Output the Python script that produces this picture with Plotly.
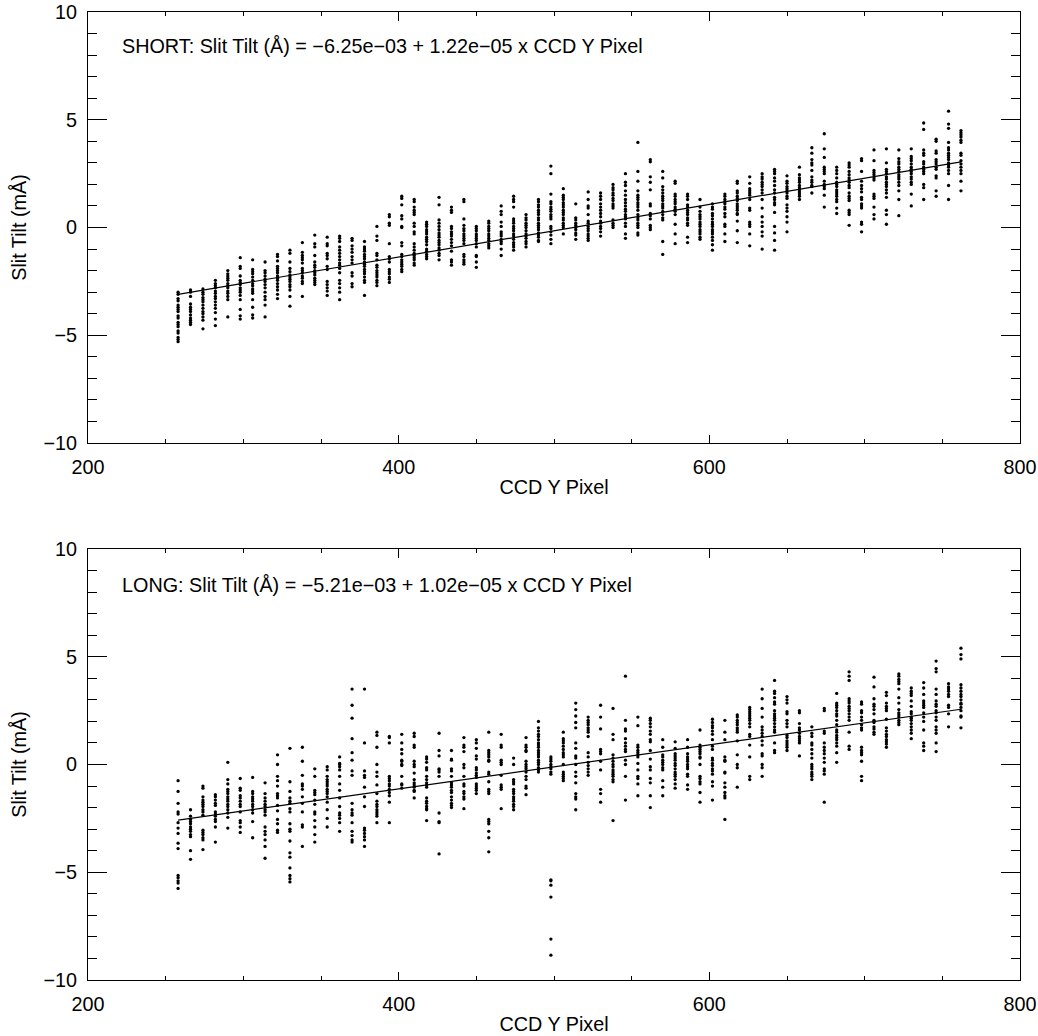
import plotly.graph_objects as go

# CCD Y pixel of each measured column
ccd_y_pixel = [258, 266, 274, 282, 290, 298, 306, 314, 322, 330, 338, 346, 354, 362, 370, 378,
               386, 394, 402, 410, 418, 426, 434, 442, 450, 458, 466, 474, 482, 490, 498, 506,
               514, 522, 530, 538, 546, 554, 562, 570, 578, 586, 594, 602, 610, 618, 626, 634,
               642, 650, 658, 666, 674, 682, 690, 698, 706, 714, 722, 730, 738, 746, 754, 762]

# SHORT slit tilt (mÅ), one list per column
short_tilt = [
 [-3.0,-3.1,-3.3,-3.4,-3.6,-3.7,-3.8,-3.9,-4.1,-4.2,-4.4,-4.5,-4.6,-4.8,-4.9,-5.1,-5.2,-5.3],
 [-2.9,-3.0,-3.2,-3.55,-3.7,-3.8,-3.9,-4.05,-4.2,-4.3,-4.4,-4.5],
 [-2.85,-3.0,-3.1,-3.25,-3.35,-3.45,-3.6,-3.75,-3.9,-4.0,-4.15,-4.3,-4.7],
 [-2.45,-2.6,-2.7,-2.8,-2.95,-3.05,-3.2,-3.3,-3.45,-3.6,-3.75,-3.95,-4.25,-4.55],
 [-2.0,-2.15,-2.25,-2.35,-2.45,-2.6,-2.7,-2.8,-2.95,-3.05,-3.2,-3.35,-4.15],
 [-1.4,-1.8,-1.9,-2.25,-2.45,-2.55,-2.65,-2.8,-2.9,-3.0,-3.15,-3.35,-3.8,-4.1,-4.25],
 [-1.5,-1.95,-2.05,-2.15,-2.3,-2.45,-2.6,-2.7,-2.85,-2.95,-3.05,-3.35,-3.7,-4.05,-4.2],
 [-1.6,-2.0,-2.1,-2.25,-2.4,-2.5,-2.65,-2.8,-3.0,-3.2,-3.35,-3.6,-4.15],
 [-1.25,-1.35,-1.55,-1.8,-1.9,-2.0,-2.1,-2.25,-2.35,-2.45,-2.6,-2.75,-2.9,-3.1,-3.3],
 [-1.05,-1.2,-1.6,-1.9,-2.05,-2.2,-2.3,-2.4,-2.5,-2.65,-2.75,-2.9,-3.2,-3.65],
 [-0.7,-1.15,-1.3,-1.4,-1.5,-1.65,-1.9,-2.0,-2.1,-2.25,-2.35,-2.5,-2.6,-3.2],
 [-0.35,-0.75,-0.9,-1.3,-1.6,-1.75,-1.85,-2.0,-2.1,-2.2,-2.35,-2.45,-2.55,-2.65],
 [-0.45,-0.75,-0.85,-1.2,-1.3,-1.45,-1.8,-1.95,-2.5,-2.65,-2.8,-2.95,-3.15],
 [-0.4,-0.5,-0.65,-0.9,-1.05,-1.2,-1.35,-1.5,-1.65,-1.75,-1.9,-2.1,-2.45,-2.6,-2.8,-3.0,-3.35],
 [-0.5,-0.6,-0.85,-1.0,-1.15,-1.35,-1.5,-1.65,-2.1,-2.25,-2.6,-2.75],
 [-0.65,-0.9,-1.0,-1.1,-1.25,-1.35,-1.45,-1.6,-1.7,-1.8,-1.95,-2.05,-2.15,-2.3,-2.45,-2.55,-3.15],
 [0.05,-0.4,-0.6,-1.2,-1.3,-1.5,-1.75,-1.85,-2.0,-2.1,-2.2,-2.3,-2.45,-2.55,-2.7],
 [0.6,0.5,0.2,0.1,-0.75,-1.35,-1.45,-1.6,-1.95,-2.05,-2.15,-2.3,-2.4,-2.55],
 [1.45,1.35,1.05,0.55,0.4,0.05,0.0,-0.7,-0.85,-1.25,-1.35,-1.5,-1.6,-1.7,-1.8,-1.95,-2.05],
 [1.3,1.2,0.95,0.8,0.7,0.6,0.2,0.05,-0.2,-0.3,-0.75,-0.9,-1.05,-1.2,-1.3,-1.4,-1.5,-1.65,-1.75],
 [0.25,0.15,0.05,-0.1,-0.2,-0.3,-0.45,-0.55,-0.65,-0.8,-1.0,-1.1,-1.25,-1.35,-1.45],
 [1.4,1.05,0.35,0.2,0.05,-0.1,-0.25,-0.35,-0.45,-0.6,-0.7,-0.8,-0.95,-1.05,-1.2,-1.3,-1.5],
 [0.95,0.8,0.7,0.05,-0.05,-0.2,-0.3,-0.4,-0.55,-0.7,-0.85,-1.1,-1.5,-1.6,-1.75],
 [1.3,1.2,0.4,0.1,-0.05,-0.15,-0.3,-0.4,-0.5,-0.6,-0.75,-1.25,-1.35,-1.5,-1.6,-1.7],
 [0.05,-0.05,-0.15,-0.3,-0.4,-0.5,-0.6,-0.75,-0.9,-1.3,-1.35,-1.6,-1.85],
 [0.3,0.2,0.05,-0.05,-0.15,-0.3,-0.4,-0.5,-0.6,-0.75,-0.85,-0.95],
 [1.0,0.75,0.6,0.25,0.05,-0.2,-0.3,-0.4,-0.55,-0.65,-0.75,-1.0,-1.3],
 [1.45,1.3,1.2,0.95,0.4,0.3,0.2,0.05,-0.05,-0.15,-0.3,-0.4,-0.55,-0.7,-0.8,-0.9,-1.05],
 [0.6,0.45,0.35,0.2,0.1,0.0,-0.15,-0.3,-0.4,-0.5,-0.65,-0.75,-0.9],
 [1.3,1.2,1.05,0.95,0.8,0.7,0.6,0.45,0.35,0.2,0.1,0.0,-0.1,-0.25,-0.35,-0.45,-0.6,-0.65],
 [2.85,2.5,1.55,1.2,1.1,0.95,0.85,0.75,0.6,0.5,0.4,0.05,-0.05,-0.2,-0.35,-0.55,-0.75],
 [1.8,1.5,1.4,1.3,1.15,1.05,0.95,0.8,0.7,0.6,0.45,0.35,0.2,0.1,0.0,-0.3],
 [1.1,0.45,0.35,0.2,0.1,0.0,-0.1,-0.25,-0.35,-0.55],
 [1.65,1.3,1.0,0.9,0.6,0.3,0.2,0.05,-0.05,-0.15,-0.3,-0.4,-0.5,-0.6],
 [1.6,1.45,1.3,1.1,0.95,0.8,0.65,0.5,0.3,0.2,0.05,-0.05,-0.2,-0.4],
 [2.0,1.85,1.75,1.6,1.5,1.35,1.25,1.1,1.0,0.9,0.35,0.2,0.1,0.0],
 [2.5,2.1,1.95,1.7,1.5,1.3,1.15,1.0,0.85,0.75,0.6,0.5,0.4,0.2,0.05,-0.3,-0.5],
 [3.95,2.6,2.15,1.7,1.5,1.4,1.3,1.15,1.05,0.95,0.8,0.6,0.45,0.35,0.2,0.1,0.0,-0.25,-0.35],
 [3.15,3.05,2.35,2.1,1.75,1.1,1.0,0.65,0.55,0.4,0.1,0.0,-0.1],
 [2.6,2.3,1.9,1.75,1.6,1.45,1.35,1.25,1.1,1.0,0.9,0.75,0.6,0.45,0.35,-0.65,-1.25],
 [2.15,2.05,1.55,1.45,1.3,1.2,1.1,0.95,0.85,0.75,0.6,0.15,-0.3,-0.75],
 [1.55,1.45,1.3,1.05,0.95,0.8,0.7,0.6,0.45,0.35,0.2,0.1,-0.45,-0.7],
 [1.3,0.95,0.75,0.6,0.5,0.4,0.25,0.15,0.05,-0.1,-0.2,-0.3,-0.45,-0.55],
 [1.1,0.95,0.85,0.65,0.55,0.4,0.25,0.15,0.05,-0.1,-0.2,-0.3,-0.45,-0.6,-0.8,-1.05],
 [1.55,1.45,1.3,1.2,1.1,0.95,0.85,0.65,0.5,0.15,0.05,-0.3,-0.65],
 [2.15,2.05,1.7,1.6,1.45,1.35,1.25,1.1,1.0,0.9,0.8,0.65,0.6,0.3,-0.15,-0.7],
 [2.35,2.05,1.8,1.7,1.6,1.5,1.3,0.9,0.8,0.25,0.15,0.05,-0.3,-0.85],
 [2.5,2.35,2.25,2.1,2.0,1.9,1.75,1.6,1.3,0.9,0.5,0.25,0.05,-0.2,-0.4,-1.0],
 [2.7,2.6,2.5,2.3,2.15,1.95,1.75,1.6,1.4,1.3,1.15,1.05,0.7,0.05,-0.25,-0.6,-1.05],
 [2.4,2.15,2.05,1.9,1.8,1.7,1.6,1.45,1.35,1.05,0.9,0.75,0.5,0.25,-0.2],
 [2.8,2.45,2.3,2.2,2.1,1.95,1.85,1.75,1.65,1.55,1.45,1.3],
 [3.7,3.45,3.15,3.0,2.9,2.65,2.35,2.2,2.1,1.95,1.9,1.6],
 [4.35,3.65,3.25,2.8,2.7,2.6,2.5,2.15,2.0,1.9,1.8,1.5,0.95],
 [2.8,2.65,2.5,2.3,2.1,2.0,1.9,1.75,1.65,1.55,1.45,1.3,1.2,0.9,0.65],
 [3.0,2.9,2.8,2.6,2.45,2.3,2.2,2.1,1.95,1.85,1.6,1.45,1.35,1.25,0.8,0.7,0.6,0.1],
 [3.2,3.1,2.6,2.15,1.95,1.8,1.65,1.4,1.3,1.1,1.0,0.9,0.25,0.15,-0.2],
 [3.6,3.1,2.65,2.55,2.45,2.3,2.2,1.55,1.45,1.35,0.95,0.6,0.4],
 [3.65,3.0,2.7,2.6,2.5,2.35,2.25,2.1,2.0,1.9,1.75,1.6,1.4,0.8,0.6,0.15],
 [3.6,3.2,3.05,2.95,2.8,2.7,2.6,2.45,2.35,2.25,2.1,1.95,1.7,1.3,0.55],
 [3.65,3.3,3.2,3.1,2.95,2.8,2.7,2.6,2.5,2.35,2.25,2.1,2.0,1.55,1.0],
 [4.85,4.55,3.6,3.45,3.35,3.05,2.95,2.8,2.7,2.6,2.5,2.0,1.85,1.3],
 [4.1,4.0,3.55,3.45,3.15,3.05,2.95,2.8,2.7,2.4,2.3,1.7,1.45],
 [5.4,4.8,4.6,3.95,3.7,3.6,3.45,3.35,3.25,3.15,3.0,2.9,2.8,2.65,2.5,1.95,1.3],
 [4.5,4.4,4.3,4.2,4.05,3.95,3.45,3.35,3.1,2.95,2.8,2.65,2.5,2.15,1.7],
]

# LONG slit tilt (mÅ), one list per column
long_tilt = [
 [-0.75,-1.25,-1.8,-2.2,-2.3,-2.7,-2.95,-3.2,-3.65,-3.9,-5.15,-5.25,-5.4,-5.5,-5.75],
 [-2.1,-2.4,-2.55,-2.65,-2.75,-2.9,-3.0,-3.1,-3.25,-3.35,-4.0,-4.4],
 [-1.0,-1.1,-1.5,-1.65,-1.75,-1.85,-1.95,-2.1,-2.2,-2.35,-3.05,-3.15,-3.25,-3.4,-3.5,-3.95],
 [-1.4,-1.5,-1.65,-1.8,-1.9,-2.2,-2.3,-2.4,-2.55,-2.65,-2.9,-3.6],
 [0.1,-0.7,-0.9,-1.15,-1.25,-1.35,-1.5,-1.6,-1.7,-1.85,-1.95,-2.1,-2.25,-2.45,-2.95],
 [-0.65,-1.1,-1.2,-1.45,-1.55,-1.7,-1.85,-1.95,-2.2,-2.6,-2.7,-2.9,-3.15],
 [-0.6,-1.25,-1.35,-1.5,-1.6,-1.7,-1.85,-1.95,-2.1,-2.25,-2.65,-3.4],
 [-0.85,-1.35,-1.55,-1.7,-1.85,-1.95,-2.1,-2.2,-2.35,-2.9,-3.1,-3.25,-3.5,-3.8,-4.35],
 [0.45,0.0,-0.55,-0.75,-1.0,-1.35,-1.45,-1.55,-1.9,-2.15,-2.55,-2.75,-3.05,-3.15],
 [0.75,-0.8,-1.25,-1.55,-1.7,-1.8,-2.05,-2.2,-2.75,-3.0,-3.1,-3.55,-4.1,-4.3,-4.8,-5.15,-5.3,-5.45],
 [0.8,0.15,-0.5,-0.9,-1.0,-1.15,-1.5,-1.8,-2.2,-2.8,-2.9,-3.8],
 [-0.2,-0.55,-1.2,-1.3,-1.4,-1.65,-1.85,-2.2,-2.3,-2.6,-2.9,-3.25,-3.6],
 [-0.1,-0.25,-0.55,-0.7,-0.8,-0.9,-1.0,-1.15,-1.25,-1.35,-1.5,-1.75,-2.1,-2.5,-2.9],
 [0.35,0.05,0.0,-0.1,-0.25,-0.55,-0.9,-1.2,-1.55,-1.95,-2.25,-2.35,-2.5,-2.7,-3.1],
 [3.5,2.75,2.15,1.2,0.55,0.2,-0.3,-0.5,-1.8,-2.1,-2.25,-2.35,-2.7,-3.1,-3.3,-3.5,-3.6],
 [3.5,1.0,-0.3,-0.5,-0.6,-1.05,-1.5,-1.95,-2.95,-3.05,-3.2,-3.35,-3.5,-3.8],
 [1.5,1.35,0.8,0.0,-0.35,-0.55,-0.95,-1.35,-1.7,-1.85,-1.95,-2.1,-2.2,-2.3,-2.4,-2.7],
 [1.3,1.25,1.0,-0.55,-0.65,-0.75,-0.9,-1.0,-1.15,-1.3,-1.45,-1.75,-2.7],
 [1.4,1.0,0.7,0.5,0.2,0.15,0.0,-0.05,-0.55,-0.9,-0.95,-1.1],
 [1.45,1.3,0.9,0.8,0.15,0.0,-0.1,-0.4,-0.7,-0.85,-0.95,-1.05,-1.2,-1.25,-1.55],
 [0.35,0.25,0.1,-0.15,-0.25,-0.55,-0.7,-0.85,-0.95,-1.05,-1.55,-1.7,-1.8,-1.95,-2.05,-2.1,-2.6],
 [1.45,0.65,0.4,-0.2,-0.25,-0.35,-0.55,-2.25,-2.65,-2.7,-4.15],
 [0.65,0.25,0.2,-0.2,-0.3,-0.55,-0.85,-0.95,-1.05,-1.2,-1.3,-1.5,-1.65,-1.8,-1.9,-2.0],
 [1.25,0.9,0.8,0.6,0.0,-0.15,-0.55,-0.9,-1.0,-1.25,-1.35,-1.5,-1.6,-2.05],
 [1.15,1.0,0.75,0.4,0.25,-0.15,-0.25,-0.4,-0.5,-0.6,-0.9,-1.0,-1.1,-1.2,-1.35],
 [1.5,0.65,0.55,0.45,0.35,0.2,0.15,-0.35,-0.45,-0.8,-1.15,-1.25,-1.35,-2.55,-2.65,-2.75,-3.1,-3.4,-4.05],
 [1.4,0.9,0.8,0.2,0.1,0.0,-0.5,-0.95,-1.05,-1.15,-2.05],
 [0.3,0.0,-0.7,-0.8,-0.9,-1.15,-1.25,-1.35,-1.5,-1.6,-1.7,-1.85,-1.95,-2.1],
 [1.25,0.9,0.8,0.65,0.6,0.15,0.0,-0.1,-0.2,-0.35,-0.55,-0.7,-1.0,-1.1,-1.4],
 [2.0,1.7,1.55,1.4,1.3,1.15,1.0,0.9,0.8,0.65,0.55,0.45,0.35,0.2,0.1,0.0,-0.15,-0.25,-0.35],
 [0.35,0.25,0.15,0.0,-0.1,-0.2,-0.35,-0.45,-5.35,-5.4,-5.6,-6.15,-8.1,-8.85],
 [1.5,1.2,1.1,1.0,0.85,0.7,0.55,0.45,0.35,0.0,-0.35,-0.45,-0.55,-0.65,-0.75],
 [2.85,2.55,2.25,1.95,1.7,1.0,0.75,0.4,0.3,0.0,-0.35,-0.55,-0.85,-1.35,-1.5,-1.6,-2.1],
 [2.2,2.05,1.95,1.85,1.7,1.6,1.5,1.3,0.55,0.35,0.1,-0.05,-0.2,-0.35,-0.5],
 [2.75,2.2,1.65,0.7,0.6,0.5,0.15,-0.25,-1.15,-1.35,-1.75],
 [2.6,1.4,1.15,0.45,0.3,0.15,0.0,-0.1,-0.25,-0.35,-0.45,-0.55,-0.7,-0.8,-2.6],
 [4.1,2.05,1.65,1.55,1.2,1.0,0.85,0.7,0.6,0.2,0.0,-0.55,-1.65],
 [2.2,1.8,0.9,0.8,0.65,0.55,0.45,0.35,0.05,-0.25,-0.55,-0.65,-0.9,-1.45],
 [2.15,2.05,1.9,1.75,1.55,1.4,1.15,1.05,0.65,0.25,-0.1,-0.25,-0.65,-0.85,-1.45,-2.0],
 [1.15,0.8,0.45,0.35,0.2,0.1,0.0,-0.15,-0.25,-0.75,-1.05,-1.45],
 [1.05,0.75,0.5,0.4,0.3,0.2,0.05,-0.05,-0.2,-0.35,-0.45,-0.55,-0.7,-0.9,-1.1],
 [1.15,0.8,0.5,0.35,0.25,0.15,0.0,-0.1,-0.2,-0.45,-0.55,-0.95,-1.15],
 [1.6,0.9,0.8,0.7,0.6,0.5,0.35,0.3,0.0,-0.55,-0.65,-0.8,-0.9,-1.3,-1.75],
 [2.1,1.95,1.8,1.7,1.55,1.4,1.15,0.85,0.7,0.3,0.2,0.05,-0.05,-0.2,-0.3,-0.45,-0.8,-1.0,-1.65],
 [2.05,1.5,1.15,0.35,0.2,0.15,-0.35,-0.4,-0.85,-1.05,-1.3,-1.45,-1.55,-2.55],
 [2.3,2.2,2.05,1.95,1.85,1.7,1.6,1.5,1.1,0.45,0.0,-0.15,-1.05],
 [2.65,2.55,2.45,2.35,2.25,2.15,2.05,1.9,1.75,1.4,1.3,0.9,0.35,-0.55,-0.7],
 [3.5,3.05,2.6,2.2,1.75,1.6,1.45,1.3,1.1,0.9,0.5,0.4,0.0,-0.15,-0.55],
 [3.9,3.4,3.3,3.1,2.9,2.8,2.5,2.35,2.25,2.15,2.05,1.9,1.75,1.6,1.5,1.0,0.65,0.55],
 [3.15,3.0,2.85,2.45,2.35,2.05,1.9,1.75,1.35,1.25,1.1,1.0,0.9,0.8,0.65],
 [2.5,2.4,1.9,1.7,1.6,1.45,1.3,1.2,1.1,1.0,0.4],
 [1.75,1.45,1.3,1.0,0.9,0.7,0.5,0.3,0.0,-0.1,-0.2,-0.35,-0.45,-0.55,-0.7],
 [2.6,2.5,1.55,1.45,1.0,0.8,0.65,0.5,0.3,0.1,-0.2,-0.3,-0.45,-1.75],
 [3.3,2.85,2.75,2.65,2.5,2.35,2.25,2.05,1.85,1.6,1.5,1.35,1.25,1.15,1.0,0.85,0.55,0.1],
 [4.3,4.1,3.9,3.05,2.95,2.85,2.7,2.6,2.5,2.35,2.2,2.05,1.5,0.85,0.7],
 [2.9,2.8,2.5,2.4,2.2,2.05,1.85,1.7,1.6,0.8,0.65,0.55,0.45,0.15,-0.55,-0.75],
 [4.05,3.6,3.05,2.8,2.7,2.55,2.35,2.05,1.95,1.75,1.65,1.5,1.4],
 [3.35,3.2,2.85,2.7,2.6,2.5,2.1,1.7,1.55,1.4,1.3,1.15,1.05,0.95,0.8],
 [4.2,4.1,3.95,3.85,3.75,3.5,3.1,2.85,2.55,2.4,2.3,2.2,2.05,1.95,1.85],
 [3.55,3.4,3.3,3.2,2.95,2.7,2.45,2.35,2.2,2.15,2.05,1.9,1.75,1.6,1.45,1.2],
 [3.8,3.55,3.25,2.95,2.85,2.75,2.65,2.4,2.2,2.0,1.6,1.0,0.85,0.65],
 [4.8,4.45,4.3,3.5,3.25,2.95,2.8,2.7,2.5,2.4,2.2,2.05,1.75,1.6,1.45,1.0,0.6],
 [3.75,3.6,3.5,3.4,3.25,3.15,2.75,2.65,2.35,1.75],
 [5.4,5.1,4.9,3.7,3.55,3.4,3.25,3.15,3.0,2.85,2.8,2.65,2.5,2.25,2.2,1.7],
]

# linear fits: Slit Tilt (Å) = a + b * CCD Y Pixel
short_fit = (-6.25e-03, 1.22e-05)
long_fit = (-5.21e-03, 1.02e-05)
short_label = "SHORT: Slit Tilt (Å) = −6.25e−03 + 1.22e−05 x CCD Y Pixel"
long_label = "LONG: Slit Tilt (Å) = −5.21e−03 + 1.02e−05 x CCD Y Pixel"

FONT = "Liberation Sans, Arial, Helvetica, sans-serif"
W, H = 1038, 1036
FS = 19.8

def px(v):
    return v / W

def py(v):
    return 1 - v / H

def flatten(cols):
    xs, ys = [], []
    for xv, col in zip(ccd_y_pixel, cols):
        for yv in col:
            xs.append(xv)
            ys.append(yv)
    return xs, ys

fig = go.Figure()
panels = [("x", "y", short_tilt, short_fit), ("x2", "y2", long_tilt, long_fit)]
for xa, ya, cols, fit in panels:
    xs, ys = flatten(cols)
    fig.add_trace(go.Scatter(x=xs, y=ys, mode="markers", xaxis=xa, yaxis=ya,
                             marker=dict(size=3.3, color="black", line=dict(width=0)),
                             showlegend=False, hoverinfo="skip"))
    x0, x1 = ccd_y_pixel[0], ccd_y_pixel[-1]
    fx = [x0, x1]
    fy = [(fit[0] + fit[1] * v) * 1000 for v in fx]
    fig.add_trace(go.Scatter(x=fx, y=fy, mode="lines", xaxis=xa, yaxis=ya,
                             line=dict(color="black", width=1.2),
                             showlegend=False, hoverinfo="skip"))

xdom = [px(88), px(1020)]
def xax(anchor):
    return dict(domain=xdom, anchor=anchor, range=[200, 800], tickvals=[200, 400, 600, 800],
                ticks="inside", ticklen=8.5, tickwidth=1, tickcolor="black",
                minor=dict(dtick=50, tick0=200, ticks="inside", ticklen=4, tickcolor="black", tickwidth=1),
                showline=True, mirror="allticks", linecolor="black", linewidth=1,
                showgrid=False, zeroline=False, automargin=False,
                ticklabelstandoff=6, ticklabeloverflow="allow",
                tickfont=dict(family=FONT, size=FS, color="black"),
                title=dict(text="CCD Y Pixel", font=dict(family=FONT, size=FS, color="black"), standoff=3))

def yax(anchor, dom):
    return dict(domain=dom, anchor=anchor, range=[-10, 10], tickvals=[-10, -5, 0, 5, 10],
                ticks="inside", ticklen=19, tickwidth=1, tickcolor="black",
                minor=dict(dtick=1, tick0=0, ticks="inside", ticklen=9, tickcolor="black", tickwidth=1),
                showline=True, mirror="allticks", linecolor="black", linewidth=1,
                showgrid=False, zeroline=False, automargin=False,
                ticklabelstandoff=6, ticklabeloverflow="allow",
                tickfont=dict(family=FONT, size=FS, color="black"),
                title=dict(text="Slit Tilt (mÅ)", font=dict(family=FONT, size=FS, color="black"), standoff=11))

fig.update_layout(
    width=W, height=H,
    margin=dict(l=0, r=0, t=0, b=0),
    paper_bgcolor="white", plot_bgcolor="white",
    xaxis=xax("y"), yaxis=yax("x", [py(443), py(12)]),
    xaxis2=xax("y2"), yaxis2=yax("x2", [py(980), py(549)]),
    annotations=[
        dict(text=short_label, x=px(120), y=py(46), xref="paper", yref="paper",
             xanchor="left", yanchor="middle", showarrow=False,
             font=dict(family=FONT, size=FS, color="black")),
        dict(text=long_label, x=px(120), y=py(585), xref="paper", yref="paper",
             xanchor="left", yanchor="middle", showarrow=False,
             font=dict(family=FONT, size=FS, color="black")),
    ],
)

# remove the default page margin so the figure fills the window exactly
fig.write_html("out.html", config={"displayModeBar": False},
               post_script="document.body.style.margin='0';document.body.style.overflow='hidden';")
